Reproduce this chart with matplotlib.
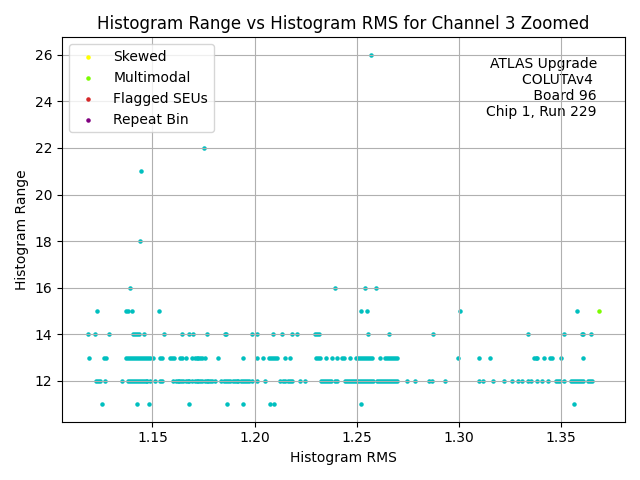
import matplotlib
matplotlib.use("Agg")
import matplotlib.pyplot as plt

# Histogram RMS values grouped by histogram range value
rms_range11 = [1.1255, 1.1423, 1.1485, 1.1678, 1.1864, 1.1941, 1.2077, 1.2093, 1.2521, 1.3564]
rms_range12 = [1.1226, 1.1235, 1.1245, 1.1270, 1.1353, 1.1382, 1.1392, 1.1402, 1.1412, 1.1422,
               1.1431, 1.1441, 1.1451, 1.1461, 1.1471, 1.1475, 1.1490, 1.1515, 1.1539, 1.1549,
               1.1603, 1.1613, 1.1623, 1.1632, 1.1642, 1.1652, 1.1662, 1.1672, 1.1681,
               1.1696, 1.1706, 1.1716, 1.1725, 1.1735, 1.1745,
               1.1755, 1.1765, 1.1774, 1.1784, 1.1794, 1.1804,
               1.1838, 1.1848, 1.1858, 1.1872, 1.1882, 1.1892, 1.1902, 1.1912, 1.1921, 1.1931,
               1.1941, 1.1951, 1.1961, 1.1971, 1.1985, 1.2010, 1.2049,
               1.2123, 1.2137, 1.2147, 1.2162, 1.2172, 1.2181, 1.2221, 1.2245,
               1.2324, 1.2333, 1.2343, 1.2353, 1.2363, 1.2373, 1.2392, 1.2402,
               1.2441, 1.2451, 1.2461, 1.2471, 1.2480, 1.2490, 1.2500, 1.2510, 1.2520, 1.2529,
               1.2539, 1.2549, 1.2559, 1.2569, 1.2578,
               1.2598, 1.2608, 1.2618, 1.2627, 1.2637, 1.2647, 1.2657, 1.2667, 1.2676, 1.2686, 1.2696,
               1.2745, 1.2784, 1.2853, 1.2867, 1.2931,
               1.3098, 1.3118, 1.3167, 1.3221, 1.3260, 1.3289, 1.3309, 1.3338, 1.3353, 1.3382,
               1.3406, 1.3436, 1.3475, 1.3485, 1.3495, 1.3514,
               1.3549, 1.3559, 1.3568, 1.3578, 1.3588, 1.3597, 1.3607, 1.3632, 1.3641, 1.3651]
rms_range13 = [1.1191, 1.1265, 1.1275, 1.1373, 1.1382, 1.1392, 1.1402, 1.1412, 1.1422, 1.1431,
               1.1441, 1.1451, 1.1461, 1.1471, 1.1480, 1.1490, 1.1505, 1.1539, 1.1549,
               1.1588, 1.1598, 1.1608, 1.1637, 1.1647, 1.1662,
               1.1696, 1.1706, 1.1716, 1.1725, 1.1735, 1.1745, 1.1755, 1.1819, 1.1941, 1.2010,
               1.2039, 1.2068, 1.2078, 1.2088, 1.2098, 1.2108, 1.2147, 1.2172,
               1.2299, 1.2309, 1.2318, 1.2348, 1.2377, 1.2402, 1.2426, 1.2436, 1.2465,
               1.2495, 1.2505, 1.2514, 1.2524, 1.2534, 1.2544, 1.2554, 1.2563, 1.2573,
               1.2612, 1.2637, 1.2647, 1.2657, 1.2667, 1.2676, 1.2686, 1.2696,
               1.2995, 1.3098, 1.3151, 1.3367, 1.3377, 1.3382, 1.3416, 1.3445, 1.3455, 1.3499, 1.3607]
rms_range14 = [1.1183, 1.1217, 1.1286, 1.1403, 1.1413, 1.1423, 1.1433, 1.1459, 1.1555, 1.1644,
               1.1678, 1.1697, 1.1766, 1.1853, 1.1861, 1.1987, 1.2011, 1.2089, 1.2134, 1.2183,
               1.2207, 1.2294, 1.2304, 1.2314, 1.2555, 1.2658, 1.2873, 1.3339, 1.3515, 1.3601,
               1.3609, 1.3648]
rms_range15 = [1.1227, 1.1373, 1.1379, 1.1399, 1.1531, 1.2521, 1.2550, 1.3006, 1.3575]
rms_range16 = [1.1389, 1.2392, 1.2538, 1.2595]
rms_outliers = [1.1438, 1.1443, 1.1752, 1.2570]
range_outliers = [18, 21, 22, 26]

# Flagged categories
skewed_rms, skewed_range = [], []
multimodal_rms, multimodal_range = [1.3687], [15]
seu_rms, seu_range = [], []
repeat_rms, repeat_range = [], []

groups = [(11, rms_range11), (12, rms_range12), (13, rms_range13),
          (14, rms_range14), (15, rms_range15), (16, rms_range16)]
all_rms, all_range = [], []
for r, vals in groups:
    all_rms.extend(vals)
    all_range.extend([r] * len(vals))
all_rms.extend(rms_outliers)
all_range.extend(range_outliers)

fig, ax = plt.subplots(figsize=(6.4, 4.8), dpi=100)
ax.scatter(all_rms, all_range, s=5, c='c')
ax.scatter(skewed_rms, skewed_range, s=5, c='yellow', label='Skewed')
ax.scatter(multimodal_rms, multimodal_range, s=5, c='lawngreen', label='Multimodal')
ax.scatter(seu_rms, seu_range, s=5, c='tab:red', label='Flagged SEUs')
ax.scatter(repeat_rms, repeat_range, s=5, c='purple', label='Repeat Bin')

ax.set_title('Histogram Range vs Histogram RMS for Channel 3 Zoomed')
ax.set_xlabel('Histogram RMS')
ax.set_ylabel('Histogram Range')
ax.grid(True)
ax.legend(loc='upper left')
ax.text(0.95, 0.95, 'ATLAS Upgrade\nCOLUTAv4 \n Board 96\nChip 1, Run 229',
        transform=ax.transAxes, ha='right', va='top', multialignment='right', zorder=1)

fig.tight_layout()
fig.savefig('out.png', dpi=100)
